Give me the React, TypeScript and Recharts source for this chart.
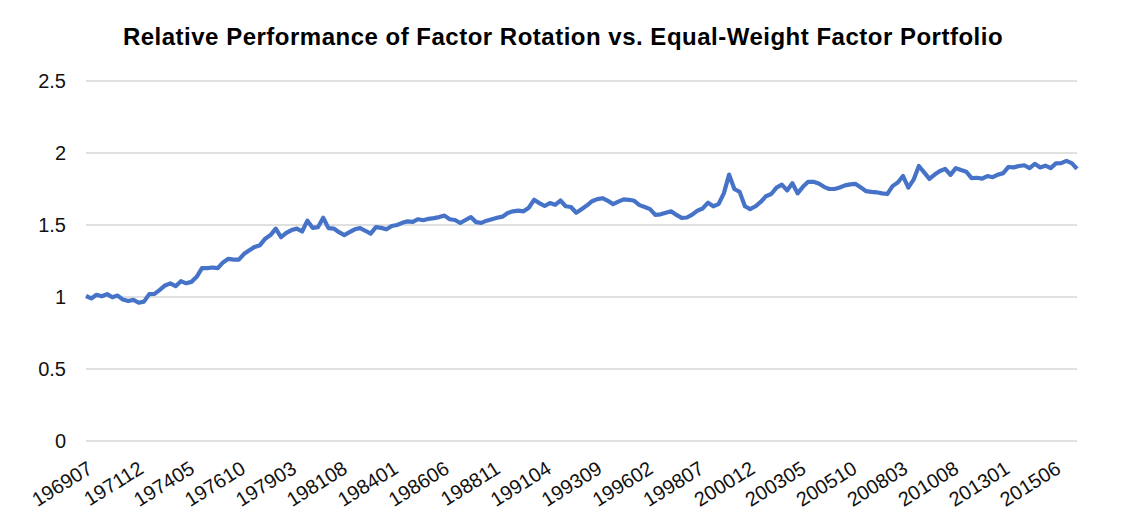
import React from "react";
import { LineChart, Line, XAxis, YAxis, CartesianGrid } from "recharts";

// first month of the series, sampled every quarter
const START_LABEL = "196907";
const STEP_MONTHS = 3;

// relative performance, factor rotation / equal-weight (quarterly readings)
const relPerf = [
  1.007, 0.99, 1.015, 1.005, 1.02, 0.998, 1.01, 0.982, 0.972, 0.98, 0.96, 0.968,
  1.02, 1.022, 1.05, 1.08, 1.095, 1.075, 1.11, 1.095, 1.105, 1.14, 1.2, 1.2,
  1.205, 1.2, 1.24, 1.265, 1.26, 1.26, 1.3, 1.325, 1.348, 1.36, 1.405, 1.43,
  1.475, 1.415, 1.445, 1.465, 1.475, 1.455, 1.53, 1.48, 1.485, 1.55, 1.478, 1.475,
  1.45, 1.43, 1.45, 1.47, 1.478, 1.46, 1.44, 1.485, 1.48, 1.47, 1.493, 1.5,
  1.515, 1.525, 1.522, 1.54, 1.533, 1.543, 1.548, 1.555, 1.565, 1.54, 1.535, 1.514,
  1.535, 1.555, 1.52, 1.515, 1.53, 1.54, 1.55, 1.558, 1.583, 1.595, 1.6, 1.595,
  1.62, 1.675, 1.652, 1.632, 1.652, 1.64, 1.67, 1.63, 1.625, 1.585, 1.61, 1.635,
  1.665, 1.68, 1.686, 1.668, 1.645, 1.662, 1.678, 1.675, 1.668, 1.638, 1.625, 1.61,
  1.57, 1.574, 1.585, 1.595, 1.57, 1.55, 1.552, 1.572, 1.6, 1.615, 1.655, 1.63,
  1.645, 1.72, 1.85, 1.75, 1.73, 1.63, 1.61, 1.63, 1.66, 1.7, 1.715, 1.76,
  1.78, 1.74, 1.79, 1.72, 1.765, 1.8, 1.8, 1.788, 1.765, 1.75, 1.75, 1.76,
  1.775, 1.782, 1.785, 1.76, 1.735, 1.73, 1.727, 1.72, 1.715, 1.77, 1.795, 1.84,
  1.76, 1.815, 1.91, 1.865, 1.82, 1.85, 1.875, 1.89, 1.848, 1.895, 1.882, 1.87,
  1.825, 1.828, 1.822, 1.84, 1.832, 1.85, 1.86, 1.903, 1.9, 1.91, 1.915, 1.895,
  1.925, 1.9, 1.912, 1.895, 1.928, 1.93, 1.945, 1.93, 1.89,
];

const tickLabels = [
  "196907", "197112", "197405", "197610", "197903", "198108", "198401",
  "198606", "198811", "199104", "199309", "199602", "199807", "200012",
  "200305", "200510", "200803", "201008", "201301", "201506",
];

const yTicks = [0, 0.5, 1, 1.5, 2, 2.5];

const TITLE =
  "Relative Performance of Factor Rotation vs. Equal-Weight Factor Portfolio";

function monthsFromStart(label: string): number {
  const y = Number(label.slice(0, 4));
  const m = Number(label.slice(4));
  const y0 = Number(START_LABEL.slice(0, 4));
  const m0 = Number(START_LABEL.slice(4));
  return (y - y0) * 12 + (m - m0);
}

const data = relPerf.map((v, i) => ({ m: i * STEP_MONTHS, v }));
const lastMonth = (relPerf.length - 1) * STEP_MONTHS;
const xTicks = tickLabels.map(monthsFromStart);
const labelAt = new Map(xTicks.map((t, i) => [t, tickLabels[i]]));

const FONT = "'Liberation Sans', Arial, Helvetica, sans-serif";

function RotatedTick({ x, y, payload }: any) {
  return (
    <g transform={`translate(${x},${y})`}>
      <text
        textAnchor="end"
        transform="translate(8,23) rotate(-32)"
        fontSize={20}
        fontFamily={FONT}
        fill="#111"
      >
        {labelAt.get(payload.value)}
      </text>
    </g>
  );
}

export default function App() {
  return (
    <div
      style={{
        position: "absolute",
        left: 0,
        top: 0,
        width: 1125,
        height: 525,
        background: "#fff",
      }}
    >
      <svg
        width={1125}
        height={70}
        style={{ position: "absolute", left: 0, top: 0 }}
      >
        <text
          x={563}
          y={45}
          textAnchor="middle"
          fontSize={24}
          letterSpacing={0.5}
          fontWeight="bold"
          fontFamily={FONT}
          fill="#000"
        >
          {TITLE}
        </text>
      </svg>
      <LineChart
        width={1125}
        height={525}
        data={data}
        margin={{ top: 81, right: 48, bottom: 0, left: 0 }}
      >
        <CartesianGrid
          horizontal
          vertical={false}
          stroke="#d6d6d6"
          strokeWidth={1.5}
        />
        <XAxis
          type="number"
          dataKey="m"
          domain={[0, lastMonth]}
          ticks={xTicks}
          interval={0}
          height={84}
          axisLine={false}
          tickLine={false}
          tick={<RotatedTick />}
        />
        <YAxis
          type="number"
          domain={[0, 2.5]}
          ticks={yTicks}
          width={86}
          axisLine={false}
          tickLine={false}
          tickMargin={14}
          tick={{ fontSize: 20, fill: "#111", fontFamily: FONT }}
        />
        <Line
          type="linear"
          dataKey="v"
          stroke="#4673c8"
          strokeWidth={4.2}
          strokeLinejoin="round"
          dot={false}
          isAnimationActive={false}
        />
      </LineChart>
    </div>
  );
}
